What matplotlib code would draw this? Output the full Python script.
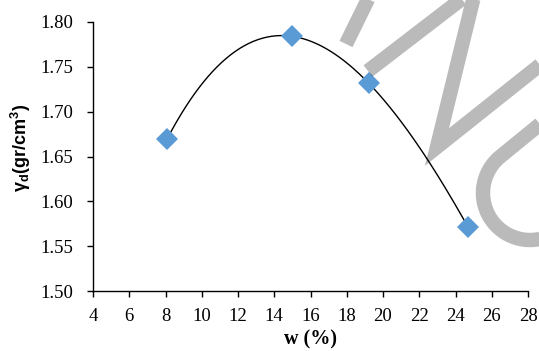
import numpy as np
import matplotlib
matplotlib.use('Agg')
from matplotlib import pyplot as plt
from matplotlib.path import Path
from matplotlib.patches import PathPatch

# compaction test points
w = [8.1, 15.0, 19.2, 24.7]          # water content (%)
gd = [1.670, 1.784, 1.732, 1.571]    # dry unit weight (gr/cm3)
xticks = list(range(4, 29, 2))
yticks = [1.50, 1.55, 1.60, 1.65, 1.70, 1.75, 1.80]

plt.rcParams['font.family'] = 'Liberation Serif'
plt.rcParams['mathtext.fontset'] = 'custom'
plt.rcParams['mathtext.bf'] = 'Liberation Sans:bold'
plt.rcParams['mathtext.rm'] = 'Liberation Sans'

W, H = 539, 351
fig = plt.figure(figsize=(W / 100, H / 100), dpi=100)
ax = fig.add_axes([93 / W, 1 - 291 / H, 435 / W, 269 / H])

# trend curve (cubic through the points)
coef = np.polyfit(w, gd, 3)
xs = np.linspace(min(w), max(w), 200)
ax.plot(xs, np.polyval(coef, xs), color='black', lw=1.0, zorder=2)
ax.plot(w, gd, 'D', color='#5B9BD5', ms=11, mew=0, zorder=3)

ax.set_xlim(4, 28)
ax.set_ylim(1.50, 1.80)
ax.set_xticks(xticks)
ax.set_yticks(yticks)
ax.set_yticklabels(['%.2f' % v for v in yticks])
ax.tick_params(direction='out', length=4.5, width=1, labelsize=13.5, colors='black')
ax.tick_params(axis='y', pad=10)
ax.tick_params(axis='x', pad=8)
for s in ['top', 'right']:
    ax.spines[s].set_visible(False)
for s in ['left', 'bottom']:
    ax.spines[s].set_linewidth(1)

ax.set_xlabel('w (%)', fontsize=14.5, fontweight='bold', labelpad=3)
ax.set_ylabel(r'$\mathbf{γ_{d}(gr/cm^{3})}$', fontsize=13)
ax.yaxis.set_label_coords(-0.138, 0.53)

# grey watermark strokes (figure pixels, y down)
def px(x, y):
    return (x / W, 1 - y / H)

verts, codes = [], []
def add(pts):
    for i, p in enumerate(pts):
        verts.append(px(*p))
        codes.append(Path.MOVETO if i == 0 else Path.LINETO)

add([(375, -15), (346, 44)])
add([(368, 71), (476, -12), (437, 147), (545, 61)])
t = np.radians(np.linspace(231.5, 60, 60))
arc = [(550, 116)] + [(530 + 47 * np.cos(a), 193 + 47 * np.sin(a)) for a in t]
add(arc)
wm = PathPatch(Path(verts, codes), fill=False, edgecolor='black', alpha=0.27,
               lw=10.4, capstyle='butt', joinstyle='miter',
               transform=fig.transFigure, zorder=5)
fig.patches.append(wm)

fig.savefig('out.png', dpi=100)
